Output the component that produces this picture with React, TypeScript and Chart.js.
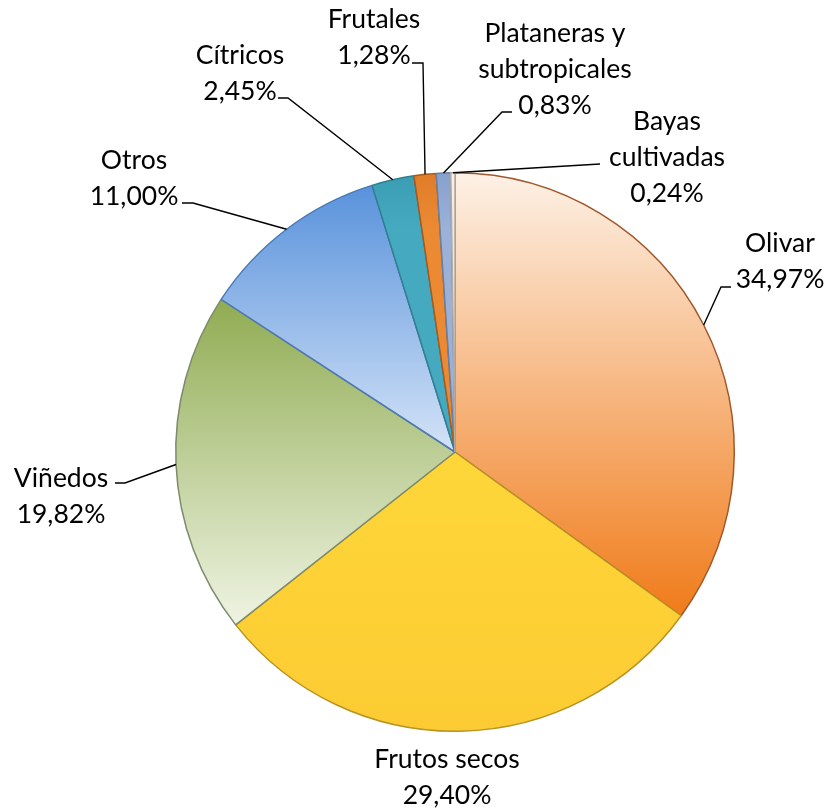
import React, { useEffect, useRef } from "react";
import { Chart, registerables } from "chart.js";

Chart.register(...registerables);

const categories = [
  "Olivar",
  "Frutos secos",
  "Viñedos",
  "Otros",
  "Cítricos",
  "Frutales",
  "Plataneras y subtropicales",
  "Bayas cultivadas",
];
const values = [34.97, 29.4, 19.82, 11.0, 2.45, 1.28, 0.83, 0.24];
const labelLines = [
  ["Olivar", "34,97%"],
  ["Frutos secos", "29,40%"],
  ["Viñedos", "19,82%"],
  ["Otros", "11,00%"],
  ["Cítricos", "2,45%"],
  ["Frutales", "1,28%"],
  ["Plataneras y", "subtropicales", "0,83%"],
  ["Bayas", "cultivadas", "0,24%"],
];

const gradTop = ["#fdf1e6", "#ffdb3c", "#8fab50", "#5a93dc", "#3a9db4", "#e07c28", "#86a0cd", "#f6f1ea"];
const gradBottom = ["#f07a18", "#fccb33", "#f1f5e6", "#d4e3f7", "#45a9bf", "#ec8a34", "#9bb1d8", "#efe7dc"];
const gradRange: [number, number][] = [
  [0.0, 0.8],
  [0.3, 1.0],
  [0.22, 0.82],
  [0.03, 0.5],
  [0.0, 0.1],
  [0.0, 0.1],
  [0.0, 0.1],
  [0.0, 0.1],
];
const borderColors = ["#a0582a", "#b89420", "#7d8a6c", "#4d79b3", "#2f7f91", "#a85a1c", "#6a7fa3", "#b5aba0"];

const labelPos: { x: number; y: number; leader: [number, number][] | null }[] = [
  { x: 780, y: 252, leader: [[731, 287], [721, 287]] },
  { x: 447, y: 768, leader: null },
  { x: 61, y: 487, leader: [[115, 483], [125, 483]] },
  { x: 134, y: 169, leader: [[182, 203], [193, 203]] },
  { x: 240, y: 64, leader: [[278, 98], [288, 98]] },
  { x: 374, y: 28, leader: [[412, 63], [423, 63]] },
  { x: 555, y: 42, leader: [[512, 112], [502, 112]] },
  { x: 667, y: 130, leader: [[600, 164]] },
];
const LINE_GAP = 36;

const labelPlugin = {
  id: "pieLabels",
  afterDatasetsDraw(chart: any) {
    const ctx = chart.ctx;
    const meta = chart.getDatasetMeta(0);
    ctx.save();
    ctx.strokeStyle = "#000000";
    ctx.lineWidth = 1.4;
    meta.data.forEach((arc: any, i: number) => {
      const p = labelPos[i];
      if (p.leader) {
        const { x, y, startAngle, endAngle, outerRadius } = arc.getProps(
          ["x", "y", "startAngle", "endAngle", "outerRadius"],
          true
        );
        const mid = (startAngle + endAngle) / 2;
        const ax = x + Math.cos(mid) * outerRadius;
        const ay = y + Math.sin(mid) * outerRadius;
        ctx.beginPath();
        ctx.moveTo(p.leader[0][0], p.leader[0][1]);
        for (let k = 1; k < p.leader.length; k++) ctx.lineTo(p.leader[k][0], p.leader[k][1]);
        ctx.lineTo(ax, ay);
        ctx.stroke();
      }
      ctx.fillStyle = "#000000";
      ctx.font = '26.5px Lato, "Open Sans", sans-serif';
      ctx.textAlign = "center";
      ctx.textBaseline = "alphabetic";
      labelLines[i].forEach((line, j) => {
        ctx.fillText(line, p.x, p.y + j * LINE_GAP);
      });
    });
    ctx.restore();
  },
};

export default function App() {
  const ref = useRef<HTMLCanvasElement>(null);
  useEffect(() => {
    if (!ref.current) return;
    const chart = new Chart(ref.current, {
      type: "pie",
      data: {
        labels: categories,
        datasets: [
          {
            data: values,
            backgroundColor: (c: any) => {
              const area = c.chart.chartArea;
              if (!area) return gradTop[c.dataIndex];
              const i = c.dataIndex;
              const h = area.bottom - area.top;
              const g = c.chart.ctx.createLinearGradient(
                0,
                area.top + gradRange[i][0] * h,
                0,
                area.top + gradRange[i][1] * h
              );
              g.addColorStop(0, gradTop[i]);
              g.addColorStop(1, gradBottom[i]);
              return g;
            },
            borderColor: borderColors,
            borderWidth: 1.5,
          },
        ],
      },
      options: {
        responsive: false,
        animation: false,
        layout: { padding: { left: 175, right: 95, top: 172, bottom: 79 } },
        plugins: {
          legend: { display: false },
          tooltip: { enabled: false },
        },
      },
      plugins: [labelPlugin],
    });
    return () => chart.destroy();
  }, []);
  return (
    <div style={{ position: "fixed", left: 0, top: 0, width: 830, height: 811, background: "#ffffff" }}>
      <canvas ref={ref} width={830} height={811} style={{ display: "block" }} />
    </div>
  );
}
